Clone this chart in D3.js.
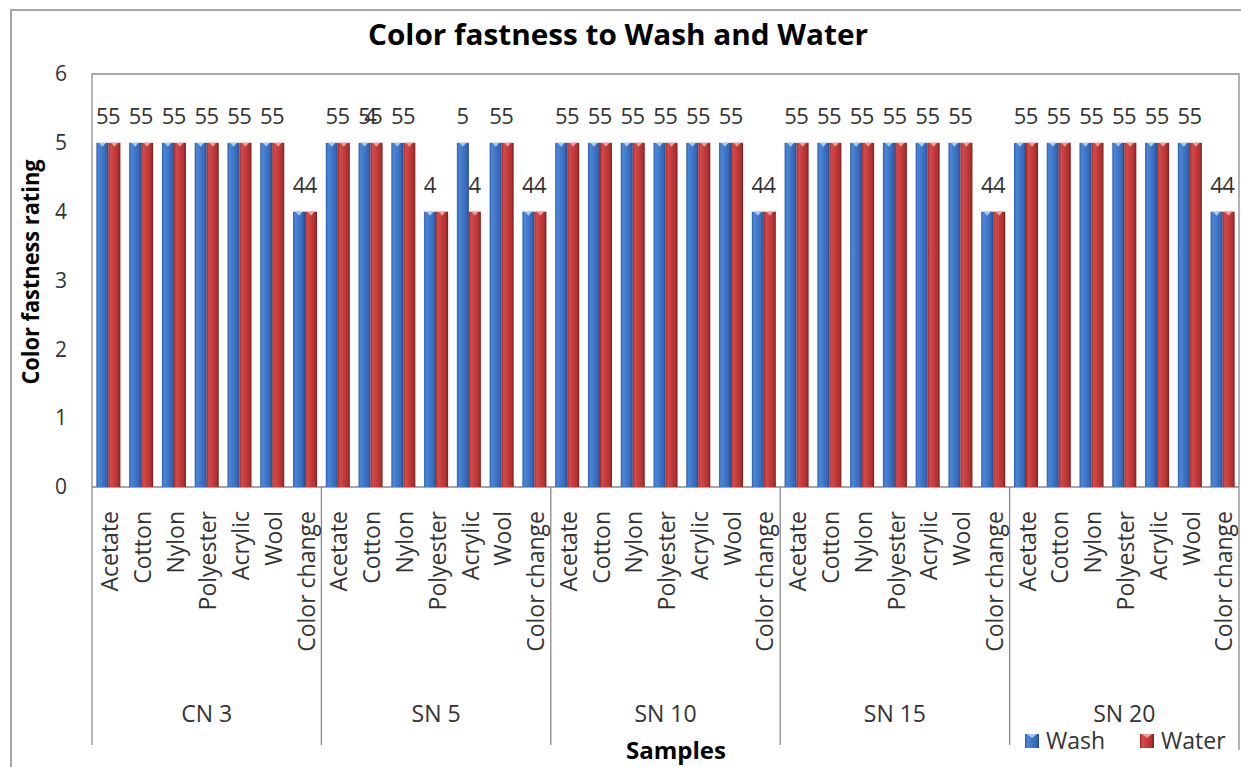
<!DOCTYPE html>
<html>
<head>
<meta charset="utf-8">
<script src="https://cdn.jsdelivr.net/npm/d3@7"></script>
<style>
  html, body { margin: 0; padding: 0; background: #fff; }
  svg { display: block; font-family: "Open Sans", "Liberation Sans", sans-serif; }
</style>
</head>
<body>
<svg id="chart" width="1241" height="767"></svg>
<script>
// Samples and the fabrics rated within each sample
const groups = ["CN 3", "SN 5", "SN 10", "SN 15", "SN 20"];
const fabrics = ["Acetate", "Cotton", "Nylon", "Polyester", "Acrylic", "Wool", "Color change"];
const seriesNames = ["Wash", "Water"];

// Ratings per sample, in fabric order
const washRatings = [
  [5, 5, 5, 5, 5, 5, 4],
  [5, 5, 5, 4, 5, 5, 4],
  [5, 5, 5, 5, 5, 5, 4],
  [5, 5, 5, 5, 5, 5, 4],
  [5, 5, 5, 5, 5, 5, 4]
];
const waterRatings = [
  [5, 5, 5, 5, 5, 5, 4],
  [5, 5, 5, 4, 4, 5, 4],
  [5, 5, 5, 5, 5, 5, 4],
  [5, 5, 5, 5, 5, 5, 4],
  [5, 5, 5, 5, 5, 5, 4]
];

const yTicks = [0, 1, 2, 3, 4, 5, 6];

// A data label that sits over a neighbouring category instead of its own bar
const shiftedLabels = [
  { group: "SN 5", fabric: "Polyester", series: "Water", anchorFabric: "Cotton" }
];

const svg = d3.select("#chart");
const W = 1241, H = 767;
const plot = { left: 92, right: 1239, top: 74, bottom: 487 };
const axisFloor = 745;

// Flattened rows: one per sample/fabric pair
const rows = [];
groups.forEach((g, gi) => {
  fabrics.forEach((f, fi) => {
    rows.push({ key: g + "|" + f, group: g, fabric: f,
      Wash: washRatings[gi][fi], Water: waterRatings[gi][fi] });
  });
});

const x0 = d3.scaleBand().domain(rows.map(r => r.key)).range([plot.left, plot.right]).padding(0);
const x1 = d3.scaleBand().domain(seriesNames).range([0, x0.bandwidth()]).paddingInner(0).paddingOuter(0.365);
const xg = d3.scaleBand().domain(groups).range([plot.left, plot.right]).padding(0);
const y = d3.scaleLinear().domain([0, 6]).range([plot.bottom, plot.top]);
const color = d3.scaleOrdinal().domain(seriesNames).range(["#3b70c2", "#c23a3a"]);

// Bevel gradients
const defs = svg.append("defs");
const gradStops = {
  Wash: [["0%", "#2c5ca8"], ["18%", "#4c86d6"], ["50%", "#3f76c9"], ["82%", "#3467b6"], ["100%", "#234a8a"]],
  Water: [["0%", "#9e2828"], ["18%", "#d24a4a"], ["50%", "#c43c3c"], ["82%", "#b03131"], ["100%", "#7a1d1d"]]
};
seriesNames.forEach(s => {
  const lg = defs.append("linearGradient").attr("id", "grad-" + s)
    .attr("x1", "0%").attr("x2", "100%").attr("y1", "0%").attr("y2", "0%");
  gradStops[s].forEach(([o, c]) => lg.append("stop").attr("offset", o).attr("stop-color", c));
});
const capColor = { Wash: "#a9cbf7", Water: "#f39a9a" };

svg.append("rect").attr("width", W).attr("height", H).attr("fill", "#fff");

// Outer chart frame
svg.append("path").attr("d", `M11,${H} V10 H${W}`).attr("fill", "none")
  .attr("stroke", "#a6a6a6").attr("stroke-width", 2);

// Title
svg.append("text").attr("x", 618).attr("y", 45).attr("text-anchor", "middle")
  .attr("font-size", 29).attr("font-weight", "bold").attr("fill", "#000")
  .attr("textLength", 500).attr("lengthAdjust", "spacingAndGlyphs")
  .text("Color fastness to Wash and Water");

// Plot frame
svg.append("path")
  .attr("d", `M${plot.left},${axisFloor} V${plot.top} H${plot.right} V750`)
  .attr("fill", "none").attr("stroke", "#8a8a8a").attr("stroke-width", 1.3);
svg.append("line").attr("x1", plot.left).attr("x2", plot.right)
  .attr("y1", plot.bottom).attr("y2", plot.bottom)
  .attr("stroke", "#8a8a8a").attr("stroke-width", 1.3);

// Group separators under the axis
svg.selectAll("line.sep").data(groups.slice(1)).join("line").attr("class", "sep")
  .attr("x1", d => xg(d)).attr("x2", d => xg(d))
  .attr("y1", plot.bottom).attr("y2", axisFloor)
  .attr("stroke", "#8a8a8a").attr("stroke-width", 1.3);

// Y axis
const yAxis = svg.append("g").attr("transform", `translate(${plot.left},0)`)
  .call(d3.axisLeft(y).tickValues(yTicks).tickFormat(d3.format("d")).tickSize(0).tickPadding(25));
yAxis.select(".domain").remove();
yAxis.selectAll("text").attr("font-size", 21).attr("fill", "#333")
  .attr("font-family", "'Open Sans', sans-serif");

svg.append("text")
  .attr("transform", `translate(39,272) rotate(-90)`)
  .attr("text-anchor", "middle").attr("font-size", 24).attr("font-weight", "bold")
  .attr("textLength", 225).attr("lengthAdjust", "spacingAndGlyphs")
  .attr("fill", "#000").text("Color fastness rating");

// Bar items
const items = [];
rows.forEach(r => seriesNames.forEach(s => items.push({ row: r, series: s, value: r[s] })));

// Data labels (drawn beneath the bars)
const labelGap = 19;
const labelG = svg.append("g");
items.forEach(it => {
  const shift = shiftedLabels.find(m => m.group === it.row.group && m.fabric === it.row.fabric && m.series === it.series);
  let lx, ly;
  if (shift) {
    const anchorRow = rows.find(r => r.group === shift.group && r.fabric === shift.anchorFabric);
    lx = x0(anchorRow.key) + x0.bandwidth() / 2;
    ly = y(Math.max(anchorRow.Wash, anchorRow.Water)) - labelGap;
  } else {
    lx = x0(it.row.key) + x1(it.series) + x1.bandwidth() / 2;
    ly = y(it.value) - labelGap;
  }
  labelG.append("text").attr("x", lx).attr("y", ly).attr("text-anchor", "middle")
    .attr("font-size", 22).attr("fill", "#333").text(it.value);
});

// Bars
const barG = svg.append("g");
items.forEach(it => {
  const bx = x0(it.row.key) + x1(it.series);
  const bw = x1.bandwidth();
  const top = y(it.value);
  barG.append("rect").attr("x", bx).attr("y", top).attr("width", bw)
    .attr("height", y(0) - top).attr("fill", `url(#grad-${it.series})`);
  barG.append("path")
    .attr("d", `M${bx + 2.5},${top} L${bx + bw - 2.5},${top} L${bx + bw / 2},${top + 4} Z`)
    .attr("fill", capColor[it.series]);
});

// Fabric labels (vertical)
svg.selectAll("text.fabric").data(rows).join("text").attr("class", "fabric")
  .attr("transform", d => `translate(${x0(d.key) + x0.bandwidth() / 2},511) rotate(-90)`)
  .attr("dy", "0.42em").attr("text-anchor", "end")
  .attr("font-size", 23).attr("fill", "#333").text(d => d.fabric);

// Sample labels
svg.selectAll("text.group").data(groups).join("text").attr("class", "group")
  .attr("x", d => xg(d) + xg.bandwidth() / 2).attr("y", 722)
  .attr("text-anchor", "middle").attr("font-size", 23).attr("fill", "#333").text(d => d);

// X axis title
svg.append("text").attr("x", 676).attr("y", 759).attr("text-anchor", "middle")
  .attr("font-size", 24).attr("font-weight", "bold").attr("fill", "#000").text("Samples");

// Legend
const legendPos = { Wash: 1025, Water: 1140 };
seriesNames.forEach(s => {
  const lx = legendPos[s];
  svg.append("rect").attr("x", lx).attr("y", 734).attr("width", 14).attr("height", 14)
    .attr("fill", `url(#grad-${s})`);
  svg.append("path").attr("d", `M${lx + 2},734 L${lx + 12},734 L${lx + 7},738 Z`).attr("fill", capColor[s]);
  svg.append("text").attr("x", lx + 21).attr("y", 749).attr("font-size", 23)
    .attr("fill", "#333").text(s);
});
</script>
</body>
</html>
